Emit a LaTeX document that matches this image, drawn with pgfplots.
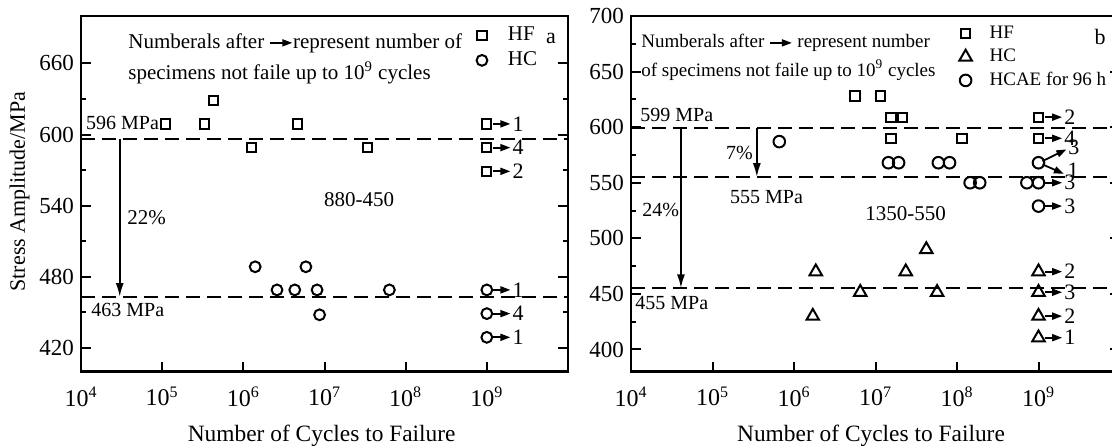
\documentclass[border=0pt]{standalone}
\usepackage{pgfplots}
\pgfplotsset{compat=1.18}
\usepackage{fontspec}
\setmainfont{Liberation Serif}
\usetikzlibrary{arrows.meta}
\newcommand{\fs}[1]{\fontsize{#1}{#1}\selectfont}
\newcommand{\rarr}{\tikz[baseline=-0.55ex]\draw[line width=0.8pt,-{Triangle[length=5pt,width=3.5pt]}] (0,0)--(11pt,0);}
\tikzset{
  runout/.style={line width=0.9pt, -{Triangle[length=5pt,width=3.5pt]}},
  vert/.style={line width=1pt, -{Latex[length=7pt,width=4pt]}},
  dashline/.style={line width=1pt, dash pattern=on 7pt off 3.5pt},
}
\begin{document}
\begin{tikzpicture}
% ---------------- panel a ----------------
\begin{axis}[
  scale only axis, xmode=log, log basis x=10,
  axis line style={line width=1.3pt},
  every tick/.style={line width=1pt, black},
  major tick length=5pt, minor tick length=2.5pt,
  tick align=inside,
  xtick pos=left, ytick pos=both,
  xmin=1e4, xmax=1e10,
  xtick={1e4,1e5,1e6,1e7,1e8,1e9,1e10},
  xticklabels={10\textsuperscript{4},10\textsuperscript{5},10\textsuperscript{6},10\textsuperscript{7},10\textsuperscript{8},10\textsuperscript{9},\mbox{}},
  x tick label style={font=\fs{12}, yshift=-4pt},
  y tick label style={font=\fs{11.5}},
  /pgf/number format/assume math mode=true,
  minor y tick num=1,
  legend cell align=left,
  legend image code/.code={\pgfpathrectangle{\pgfpoint{-5pt}{-3pt}}{\pgfpoint{18pt}{6pt}}\pgfusepath{discard}\draw[#1] plot coordinates {(0pt,0pt)};},
  at={(40.5pt,37.65pt)}, anchor=south west,
  width=243.5pt, height=177.85pt,
  ymin=400, ymax=700, ytick={420,480,540,600,660},
  legend style={draw=none, fill=none, at={(0.802,0.972)}, anchor=north west,
    font=\fs{10.5}, row sep=3.5pt, inner sep=0pt,
    nodes={inner sep=0pt, text height=7pt, text depth=2pt}},
]
\addplot[only marks, mark=square, mark size=2.3pt, line width=1pt] coordinates {
 (1.1e5,609) (3.3e5,609) (4.3e5,629) (1.26e6,589) (4.6e6,609) (3.4e7,589)
 (1e9,609) (1e9,589) (1e9,569)};
\addlegendentry{HF}
\addplot[only marks, mark=o, mark size=2.7pt, line width=1pt] coordinates {
 (1.4e6,488.5) (2.6e6,469) (4.3e6,469) (5.9e6,488.5) (8.1e6,469) (8.7e6,448) (6.3e7,469)
 (1e9,469) (1e9,449) (1e9,429)};
\addlegendentry{HC}
\addplot[dashline, forget plot] coordinates {(1e4,596) (1e10,596)};
\addplot[dashline, forget plot] coordinates {(1e4,463) (1e10,463)};
\draw[vert] (axis cs:3e4,596) -- (axis cs:3e4,463);
\draw[runout] (axis cs:1.2e9,609) -- (axis cs:1.95e9,609);
\draw[runout] (axis cs:1.2e9,589) -- (axis cs:1.95e9,589);
\draw[runout] (axis cs:1.2e9,569) -- (axis cs:1.95e9,569);
\draw[runout] (axis cs:1.2e9,469) -- (axis cs:1.95e9,469);
\draw[runout] (axis cs:1.2e9,449) -- (axis cs:1.95e9,449);
\draw[runout] (axis cs:1.2e9,429) -- (axis cs:1.95e9,429);
\node[anchor=west, inner sep=0pt, font=\fs{11}] at (axis cs:2.05e9,609) {1};
\node[anchor=west, inner sep=0pt, font=\fs{11}] at (axis cs:2.05e9,589) {4};
\node[anchor=west, inner sep=0pt, font=\fs{11}] at (axis cs:2.05e9,569) {2};
\node[anchor=west, inner sep=0pt, font=\fs{11}] at (axis cs:2.05e9,469) {1};
\node[anchor=west, inner sep=0pt, font=\fs{11}] at (axis cs:2.05e9,449) {4};
\node[anchor=west, inner sep=0pt, font=\fs{11}] at (axis cs:2.05e9,429) {1};
\end{axis}
% ---------------- panel b ----------------
\begin{axis}[
  scale only axis, xmode=log, log basis x=10,
  axis line style={line width=1.3pt},
  every tick/.style={line width=1pt, black},
  major tick length=5pt, minor tick length=2.5pt,
  tick align=inside,
  xtick pos=left, ytick pos=both,
  xmin=1e4, xmax=1e10,
  xtick={1e4,1e5,1e6,1e7,1e8,1e9,1e10},
  xticklabels={10\textsuperscript{4},10\textsuperscript{5},10\textsuperscript{6},10\textsuperscript{7},10\textsuperscript{8},10\textsuperscript{9},\mbox{}},
  x tick label style={font=\fs{12}, yshift=-4pt},
  y tick label style={font=\fs{11.5}},
  /pgf/number format/assume math mode=true,
  minor y tick num=1,
  legend cell align=left,
  legend image code/.code={\pgfpathrectangle{\pgfpoint{-5pt}{-3pt}}{\pgfpoint{17pt}{6pt}}\pgfusepath{discard}\draw[#1] plot coordinates {(0pt,0pt)};},
  at={(315.5pt,37.65pt)}, anchor=south west,
  width=244.5pt, height=177.85pt,
  ymin=380, ymax=700, ytick={400,450,500,550,600,650,700},
  legend style={draw=none, fill=none, at={(0.663,0.9775)}, anchor=north west,
    font=\fs{9.5}, row sep=2.75pt, inner sep=0pt,
    nodes={inner sep=0pt, text height=7pt, text depth=2pt}},
]
\addplot[only marks, mark=square, mark size=2.3pt, line width=1pt] coordinates {
 (5.6e6,628) (1.15e7,628) (1.55e7,609) (2.15e7,609) (1.55e7,590) (1.15e8,590)
 (1e9,609) (1e9,590)};
\addlegendentry{HF}
\addplot[only marks, mark=triangle, mark size=3.6pt, line width=1pt] coordinates {
 (1.85e6,470) (1.7e6,430) (6.5e6,451.5) (2.35e7,470) (4.2e7,490) (5.7e7,451.5)
 (1e9,470) (1e9,451.5) (1e9,430) (1e9,410.6)};
\addlegendentry{HC}
\addplot[only marks, mark=o, mark size=2.9pt, line width=1pt] coordinates {
 (6.6e5,587) (1.44e7,568) (1.92e7,568) (5.9e7,568) (8.1e7,568)
 (1.45e8,550) (1.9e8,550) (7.2e8,550)
 (1e9,568) (1e9,550) (1e9,529)};
\addlegendentry{HCAE for 96 h}
\addplot[dashline, forget plot] coordinates {(1e4,599) (1e10,599)};
\addplot[dashline, forget plot] coordinates {(1e4,555) (1e10,555)};
\addplot[dashline, forget plot] coordinates {(1e4,455) (1e10,455)};
\draw[vert] (axis cs:4.1e4,599) -- (axis cs:4.1e4,455);
\draw[vert] (axis cs:3.5e5,599) -- (axis cs:3.5e5,555);
\draw[runout] (axis cs:1.2e9,609) -- (axis cs:1.95e9,609);
\draw[runout] (axis cs:1.2e9,590) -- (axis cs:1.95e9,590);
\draw[runout] (axis cs:1.2e9,550) -- (axis cs:1.95e9,550);
\draw[runout] (axis cs:1.2e9,529) -- (axis cs:1.95e9,529);
\draw[runout] (axis cs:1.2e9,470) -- (axis cs:1.95e9,470);
\draw[runout] (axis cs:1.2e9,451.5) -- (axis cs:1.95e9,451.5);
\draw[runout] (axis cs:1.2e9,430) -- (axis cs:1.95e9,430);
\draw[runout] (axis cs:1.2e9,410.6) -- (axis cs:1.95e9,410.6);
\node[anchor=west, inner sep=0pt, font=\fs{11}] at (axis cs:2.05e9,609) {2};
\node[anchor=west, inner sep=0pt, font=\fs{11}] at (axis cs:2.05e9,590) {4};
\node[anchor=west, inner sep=0pt, font=\fs{11}] at (axis cs:2.05e9,550) {3};
\node[anchor=west, inner sep=0pt, font=\fs{11}] at (axis cs:2.05e9,529) {3};
\node[anchor=west, inner sep=0pt, font=\fs{11}] at (axis cs:2.05e9,470) {2};
\node[anchor=west, inner sep=0pt, font=\fs{11}] at (axis cs:2.05e9,451.5) {3};
\node[anchor=west, inner sep=0pt, font=\fs{11}] at (axis cs:2.05e9,430) {2};
\node[anchor=west, inner sep=0pt, font=\fs{11}] at (axis cs:2.05e9,410.6) {1};
\draw[runout] (axis cs:1.12e9,569.5) -- (axis cs:2.2e9,580);
\node[anchor=west, inner sep=0pt, font=\fs{11}] at (axis cs:2.3e9,581.5) {3};
\draw[runout] (axis cs:1.12e9,566.5) -- (axis cs:2.05e9,558);
\node[anchor=west, inner sep=0pt, font=\fs{11}] at (axis cs:2.25e9,561) {1};
\end{axis}
% ---------------- annotations (pixel units) ----------------
\begin{scope}[x=0.5pt,y=-0.5pt,shift={(0pt,223.5pt)}]
\node[anchor=west, inner sep=0pt, font=\fs{10.5}] at (128,43) {Numberals after \rarr represent number of};
\node[anchor=west, inner sep=0pt, font=\fs{10.5}] at (128,73) {specimens not faile up to 10\textsuperscript{9} cycles};
\node[font=\fs{11}] at (551,38) {a};
\node[font=\fs{10}] at (122.5,122.7) {596 MPa};
\node[anchor=west, inner sep=0pt, font=\fs{10.5}] at (127,218) {22\%};
\node[anchor=west, inner sep=0pt, font=\fs{10}] at (91,310) {463 MPa};
\node[font=\fs{10.5}] at (359,200) {880-450};
\node[anchor=west, inner sep=0pt, font=\fs{9.5}] at (641,43) {Numberals after \rarr{} represent number};
\node[anchor=west, inner sep=0pt, font=\fs{9.5}] at (641,70) {of specimens not faile up to 10\textsuperscript{9} cycles};
\node[font=\fs{11}] at (1100,37) {b};
\node[anchor=west, inner sep=0pt, font=\fs{10}] at (640,115) {599 MPa};
\node[font=\fs{10}] at (739.5,153) {7\%};
\node[font=\fs{10}] at (766.5,197) {555 MPa};
\node[anchor=west, inner sep=0pt, font=\fs{10}] at (642,210) {24\%};
\node[font=\fs{10.5}] at (905.5,214) {1350-550};
\node[anchor=west, inner sep=0pt, font=\fs{10}] at (635,303) {455 MPa};
\node[font=\fs{11.7}] at (321.7,436) {Number of Cycles to Failure};
\node[font=\fs{11.7}] at (871,436) {Number of Cycles to Failure};
\node[rotate=90, font=\fs{11}] at (19.5,191.5) {Stress Amplitude/MPa};
\end{scope}
\pgfresetboundingbox
\path[use as bounding box] (0pt,0pt) rectangle (556pt,223.5pt);
\end{tikzpicture}
\end{document}
